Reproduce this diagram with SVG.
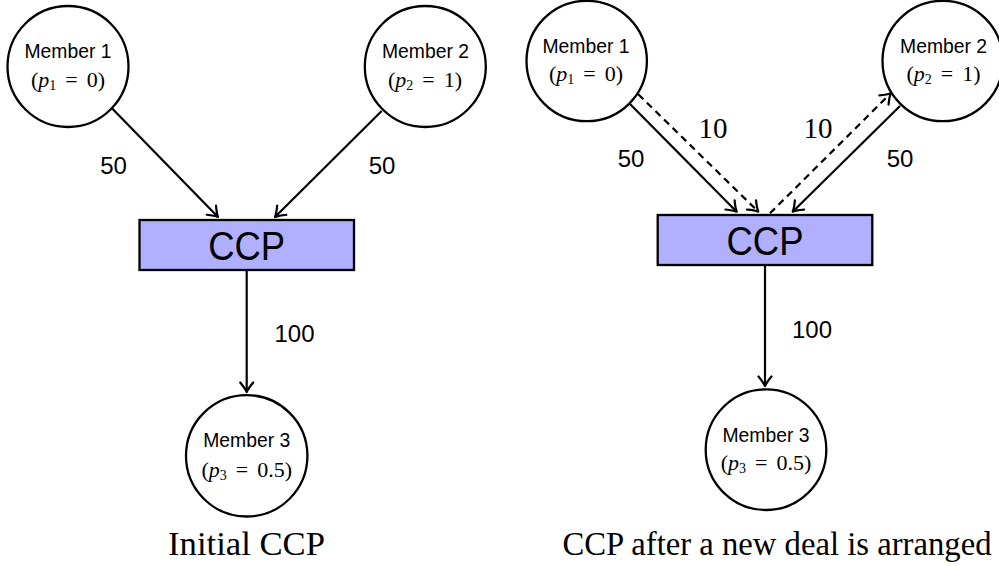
<svg xmlns="http://www.w3.org/2000/svg" width="999" height="566" viewBox="0 0 999 566">
<style>
.node{fill:#fff;stroke:#000;stroke-width:2.3}
.box{fill:#b0b0ff;stroke:#000;stroke-width:2.3}
.lbl{font-family:"Liberation Sans",Arial,sans-serif;fill:#000}
.math{font-family:"Liberation Serif","Times New Roman",serif;fill:#000}
.edge{stroke:#000;stroke-width:2.2;fill:none;marker-end:url(#arr)}
.dash{stroke-dasharray:7 5}
</style>
<defs>
<marker id="arr" markerUnits="userSpaceOnUse" markerWidth="20" markerHeight="20" viewBox="-12 -10 14 20" refX="0" refY="0" orient="auto">
<path d="M -9.5 -6.5 Q -3.5 -1.5 0 0 Q -3.5 1.5 -9.5 6.5" fill="none" stroke="#000" stroke-width="2.2" stroke-linecap="round" stroke-linejoin="round"/>
</marker>
</defs>
<g id="connectors">
<line class="edge" x1="111.7" y1="108" x2="218" y2="217"/>
<line class="edge" x1="381.7" y1="111" x2="275" y2="217"/>
<line class="edge" x1="246.7" y1="270" x2="246.7" y2="392"/>
<line class="edge" x1="630" y1="104" x2="736.7" y2="211.7"/>
<line class="edge dash" x1="638.3" y1="94.3" x2="758.3" y2="211.7"/>
<line class="edge dash" x1="770" y1="213.3" x2="890.7" y2="93.3"/>
<line class="edge" x1="900" y1="106" x2="792.7" y2="211.7"/>
<line class="edge" x1="765" y1="265" x2="765" y2="386"/>
<text class="lbl" x="113.5" y="173.5" font-size="24" text-anchor="middle">50</text>
<text class="lbl" x="382" y="173.5" font-size="24" text-anchor="middle">50</text>
<text class="lbl" x="294.5" y="342" font-size="24" text-anchor="middle">100</text>
<text class="lbl" x="631" y="167" font-size="24" text-anchor="middle">50</text>
<text class="lbl" x="900" y="167" font-size="24" text-anchor="middle">50</text>
<text class="lbl" x="812" y="337.5" font-size="24" text-anchor="middle">100</text>
<text class="math" x="713" y="138.3" font-size="29" text-anchor="middle">10</text>
<text class="math" x="818" y="138.3" font-size="29" text-anchor="middle">10</text>
</g>
<g id="left-member1">
<circle class="node" cx="68" cy="66.5" r="60.5"/>
<text class="lbl" x="68" y="58.3" font-size="20" text-anchor="middle" textLength="87" lengthAdjust="spacingAndGlyphs">Member 1</text>
<text class="math" x="68" y="87" font-size="22" text-anchor="middle">(<tspan font-style="italic">p</tspan><tspan font-size="14" dy="3">1</tspan><tspan dy="-3" dx="9">=</tspan><tspan dx="9">0)</tspan></text>
</g>
<g id="left-member2">
<circle class="node" cx="425.3" cy="66.5" r="60.5"/>
<text class="lbl" x="425.5" y="58.3" font-size="20" text-anchor="middle" textLength="87" lengthAdjust="spacingAndGlyphs">Member 2</text>
<text class="math" x="425" y="87" font-size="22" text-anchor="middle">(<tspan font-style="italic">p</tspan><tspan font-size="14" dy="3">2</tspan><tspan dy="-3" dx="9">=</tspan><tspan dx="9">1)</tspan></text>
</g>
<g id="left-ccp">
<rect class="box" x="139.5" y="220" width="214.5" height="50"/>
<text class="lbl" x="246.7" y="260" font-size="41" text-anchor="middle" textLength="77" lengthAdjust="spacingAndGlyphs">CCP</text>
</g>
<g id="left-member3">
<circle class="node" cx="246.7" cy="455.8" r="60.7"/>
<text class="lbl" x="246.7" y="446.7" font-size="20" text-anchor="middle" textLength="87" lengthAdjust="spacingAndGlyphs">Member 3</text>
<text class="math" x="246.7" y="476.7" font-size="22" text-anchor="middle">(<tspan font-style="italic">p</tspan><tspan font-size="14" dy="3">3</tspan><tspan dy="-3" dx="9">=</tspan><tspan dx="9">0.5)</tspan></text>
</g>
<g id="right-member1">
<circle class="node" cx="586.7" cy="61" r="60.2"/>
<text class="lbl" x="586" y="53.3" font-size="20" text-anchor="middle" textLength="87" lengthAdjust="spacingAndGlyphs">Member 1</text>
<text class="math" x="586" y="81" font-size="22" text-anchor="middle">(<tspan font-style="italic">p</tspan><tspan font-size="14" dy="3">1</tspan><tspan dy="-3" dx="9">=</tspan><tspan dx="9">0)</tspan></text>
</g>
<g id="right-member2">
<circle class="node" cx="942.7" cy="61" r="60.2"/>
<text class="lbl" x="943.6" y="53.3" font-size="20" text-anchor="middle" textLength="87" lengthAdjust="spacingAndGlyphs">Member 2</text>
<text class="math" x="943.5" y="81" font-size="22" text-anchor="middle">(<tspan font-style="italic">p</tspan><tspan font-size="14" dy="3">2</tspan><tspan dy="-3" dx="9">=</tspan><tspan dx="9">1)</tspan></text>
</g>
<g id="right-ccp">
<rect class="box" x="657.7" y="215" width="214.6" height="50"/>
<text class="lbl" x="765" y="255" font-size="41" text-anchor="middle" textLength="77" lengthAdjust="spacingAndGlyphs">CCP</text>
</g>
<g id="right-member3">
<circle class="node" cx="766" cy="449.7" r="60.3"/>
<text class="lbl" x="766" y="441.7" font-size="20" text-anchor="middle" textLength="87" lengthAdjust="spacingAndGlyphs">Member 3</text>
<text class="math" x="766" y="470" font-size="22" text-anchor="middle">(<tspan font-style="italic">p</tspan><tspan font-size="14" dy="3">3</tspan><tspan dy="-3" dx="9">=</tspan><tspan dx="9">0.5)</tspan></text>
</g>
<g id="captions">
<text class="math" x="246.5" y="555" font-size="33" text-anchor="middle" textLength="157" lengthAdjust="spacingAndGlyphs">Initial CCP</text>
<text class="math" x="777" y="555" font-size="33" text-anchor="middle" textLength="429" lengthAdjust="spacingAndGlyphs">CCP after a new deal is arranged</text>
</g>
</svg>
